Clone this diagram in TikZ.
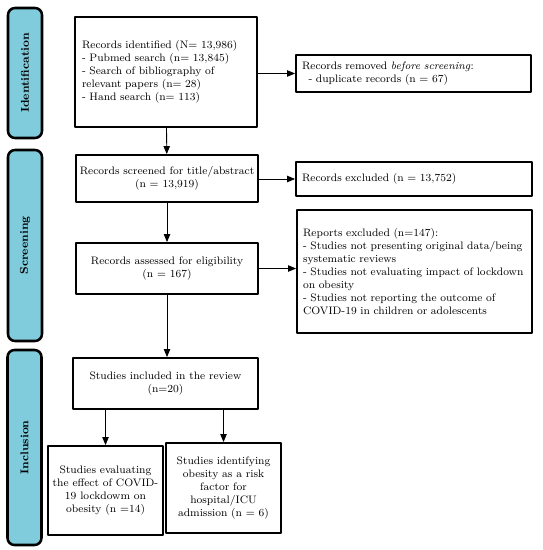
\documentclass[tikz,border=0pt]{standalone}
\usepackage{tikz}
\usetikzlibrary{arrows.meta,calc}

\newlength{\pxl}
\setlength{\pxl}{0.025cm}
\definecolor{barblue}{RGB}{128,203,220}

\tikzset{
  box/.style={draw, line width=1.3pt, rectangle, inner ysep=0pt,
    font=\fontsize{7.7}{9.3}\selectfont},
  leftbox/.style={box, align=left, inner xsep=6\pxl},
  midbox/.style={box, align=center, inner xsep=2\pxl},
  sidebar/.style={draw, line width=1.8pt, fill=barblue, rounded corners=7\pxl,
    rotate=90, minimum height=34\pxl, inner sep=0pt,
    font=\fontsize{8}{9}\selectfont\bfseries},
  flow/.style={->, line width=0.6pt},
}

\begin{document}
\begin{tikzpicture}[x=\pxl, y=-\pxl, line cap=round, line join=round, >={Triangle[length=2mm, width=1.6mm]}]
  \useasboundingbox (0,0) rectangle (542,550);

  % Phase bars
  \node[sidebar, minimum width=130\pxl] (idbar) at (25,73) {Identification};
  \node[sidebar, minimum width=191\pxl] (scrbar) at (25,245.5) {Screening};
  \node[sidebar, minimum width=195\pxl] (incbar) at (24.5,447.5) {Inclusion};

  % Main column
  \node[leftbox, text width=168\pxl, minimum height=110\pxl, inner xsep=7\pxl] (ident) at (166,72)
    {Records identified (N= 13,986)\\- Pubmed search (n= 13,845)\\- Search of bibliography of\\relevant papers (n= 28)\\- Hand search (n= 113)};
  \node[midbox, minimum width=182\pxl, minimum height=47\pxl] (screen) at (167,178.5)
    {Records screened for title/abstract\\(n = 13,919)};
  \node[midbox, minimum width=182\pxl, minimum height=51\pxl] (elig) at (167,268.5)
    {Records assessed for eligibility\\(n = 167)};
  \node[midbox, minimum width=185\pxl, minimum height=51\pxl] (incl) at (165.5,383.5)
    {Studies included in the review\\(n=20)};
  \node[midbox, minimum width=115\pxl, minimum height=89\pxl] (lockd) at (105.5,490.5)
    {Studies evaluating\\the effect of COVID-\\19 lockdowm on\\obesity (n =14)};
  \node[midbox, minimum width=115\pxl, minimum height=90\pxl] (risk) at (223.5,488)
    {Studies identifying\\obesity as a risk\\factor for\\hospital/ICU\\admission (n = 6)};

  % Side column
  \node[leftbox, text width=223\pxl, minimum height=37\pxl] (removed) at (413.5,73.5)
    {Records removed \textit{before screening}:\\\hspace{0.6em}- duplicate records (n = 67)};
  \node[leftbox, text width=224\pxl, minimum height=34\pxl] (excl) at (414,179)
    {Records excluded (n = 13,752)};
  \node[leftbox, text width=223\pxl, minimum height=123\pxl] (reports) at (414.5,271.5)
    {Reports excluded (n=147):\\- Studies not presenting original data/being\\systematic reviews\\- Studies not evaluating impact of lockdown\\on obesity\\- Studies not reporting the outcome of\\COVID-19 in children or adolescents};

  % Arrows
  \draw[flow] (ident) -- (screen);
  \draw[flow] (screen) -- (elig);
  \draw[flow] (elig.south) -- (elig.south |- incl.north);
  \draw[flow] (ident.east |- removed.west) -- (removed.west);
  \draw[flow] (screen.east |- excl.west) -- (excl.west);
  \draw[flow] (elig.east) -- (elig.east -| reports.west);
  \draw[flow] (incl.south -| lockd.north) -- (lockd.north);
  \draw[flow] (incl.south -| risk.north) -- (risk.north);
\end{tikzpicture}
\end{document}
